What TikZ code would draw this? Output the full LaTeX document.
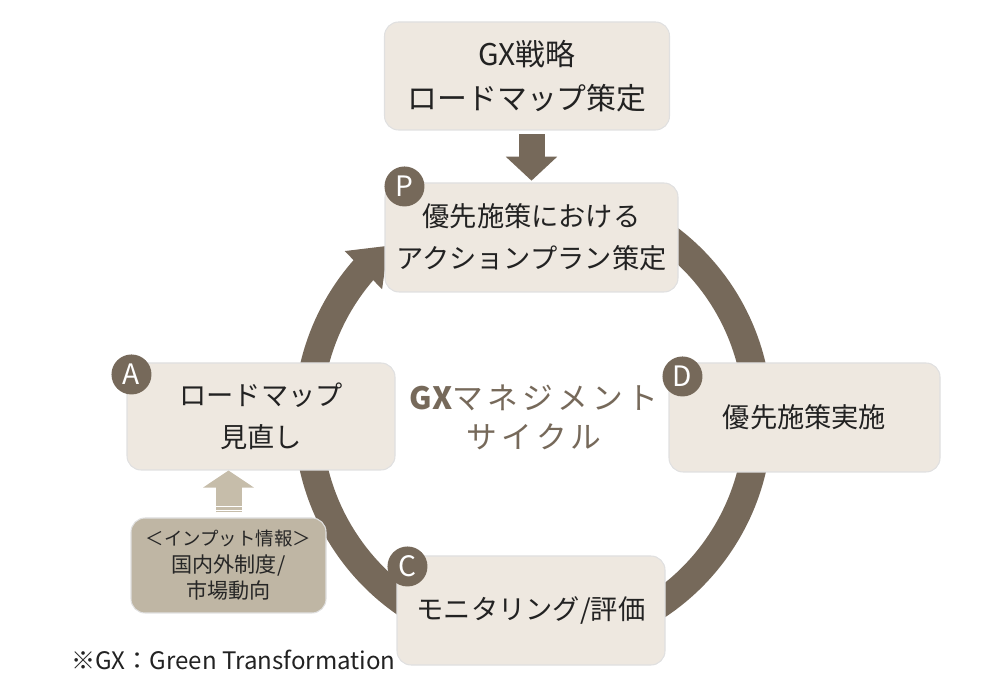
\documentclass[tikz,border=0pt]{standalone}
\usepackage{fontspec}
\setmainfont{Noto Sans CJK JP}
\usepackage{xcolor}
\usepackage{tikz}
\usetikzlibrary{arrows.meta, positioning, backgrounds, bending}

\definecolor{cyclebrown}{HTML}{76695A}
\definecolor{stagefill}{HTML}{EEE8E0}
\definecolor{inputfill}{HTML}{BFB6A4}
\definecolor{inputarrow}{HTML}{C6BDAA}
\definecolor{textdark}{HTML}{222222}

\begin{document}
\begin{tikzpicture}[
  stage/.style={draw=black!12, line width=0.6pt, fill=stagefill, rounded corners=8pt, align=center, text=textdark, font=\fontsize{15.5}{24}\selectfont, minimum width=5.36cm, minimum height=2.16cm, inner sep=0pt},
  inputbox/.style={stage, fill=inputfill, text=black!85, minimum width=3.9cm, minimum height=1.9cm, font=\fontsize{12}{15}\selectfont},
  badge/.style={circle, fill=cyclebrown, text=white, minimum size=0.8cm, inner sep=0pt, font=\fontsize{16}{16}\selectfont},
  bigarrow/.style={line width=0.52cm, -{Triangle[width=1.0cm, length=0.48cm]}}
]
  \useasboundingbox (0,0) rectangle (20,13.88);

  % PDCA stages
  \node[stage, minimum width=5.7cm, font=\fontsize{17}{25}\selectfont] (strategy) at (10.54,12.36) {GX戦略\\ロードマップ策定};
  \node[stage, minimum width=5.86cm, minimum height=2.18cm] (plan) at (10.63,9.13) {優先施策における\\アクションプラン策定};
  \node[stage, minimum width=5.42cm, minimum height=2.18cm] (do) at (16.09,5.53) {優先施策実施};
  \node[stage, minimum height=2.18cm] (check) at (10.62,1.67) {モニタリング/評価};
  \node[stage, minimum height=2.14cm] (act) at (5.22,5.55) {ロードマップ\\見直し};
  \node[inputbox] (input) at (4.57,2.57) {{\fontsize{10.5}{15}\selectfont ＜インプット情報＞}\\国内外制度/\\市場動向};

  % badges
  \node[badge] (pbadge) at ([shift={(0.4,-0.08)}]plan.north west) {P};
  \node[badge] (dbadge) at ([shift={(0.28,-0.28)}]do.north west) {D};
  \node[badge] (cbadge) at ([shift={(0.22,-0.22)}]check.north west) {C};
  \node[badge] (abadge) at ([shift={(0.1,-0.24)}]act.north west) {A};

  % cycle ring
  \coordinate (hub) at (10.66,5.52);
  \node[text=cyclebrown, align=center, font=\fontsize{17.5}{22}\selectfont] (title) at (10.68,5.53) {\textbf{GX}{\addfontfeatures{LetterSpace=14}マネジメント}\\{\addfontfeatures{LetterSpace=14}サイクル}};
  \begin{scope}[on background layer]
    \draw[cyclebrown, line width=0.56cm, -{Triangle[width=1.02cm, length=0.7cm, flex]}]
      ([shift={(58:4.5)}]hub) arc[start angle=58, end angle=-230, radius=4.5];
  \end{scope}

  % arrows into the cycle
  \draw[bigarrow, cyclebrown, shorten <=2pt, shorten >=1pt] (plan.north |- strategy.south) -- (plan.north);
  \draw[bigarrow, inputarrow, -{Triangle[width=1.0cm, length=0.34cm]}] ([yshift=0.1cm]input.north) -- (input.north |- act.south);
  \draw[white, line width=0.8pt] ([shift={(-0.3,0.14)}]input.north) -- ([shift={(0.3,0.14)}]input.north);
  \draw[white, line width=0.8pt] ([shift={(-0.3,0.22)}]input.north) -- ([shift={(0.3,0.22)}]input.north);

  % footnote
  \node[anchor=west, text=textdark, font=\fontsize{13.7}{15}\selectfont] (note) at (1.3,0.68) {※GX：Green Transformation};
\end{tikzpicture}
\end{document}
